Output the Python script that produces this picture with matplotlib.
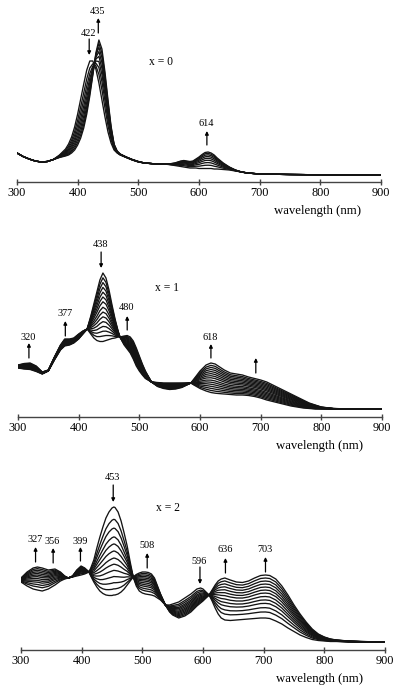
import numpy as np
import matplotlib
matplotlib.use("Agg")
import matplotlib.pyplot as plt

plt.rcParams['font.family'] = ['Liberation Serif', 'DejaVu Serif']

# ---------------- data (absorbance, arbitrary units) ----------------
# Panel x = 0
wl0 = [300, 310, 320, 330, 340, 350, 360, 370, 380, 385,
       390, 395, 400, 405, 410, 415, 420, 425, 430, 435,
       440, 445, 450, 455, 460, 465, 470, 480, 490, 500,
       510, 520, 530, 540, 550, 560, 565, 570, 575, 580,
       585, 590, 595, 600, 605, 610, 615, 620, 625, 630,
       640, 650, 660, 670, 680, 690, 700, 750, 800, 900]
x0_start = [0.29, 0.255, 0.23, 0.21, 0.20, 0.205, 0.225, 0.27, 0.33, 0.38,
            0.45, 0.55, 0.68, 0.83, 0.98, 1.12, 1.21, 1.21, 1.13, 0.99,
            0.82, 0.65, 0.50, 0.39, 0.32, 0.29, 0.27, 0.245, 0.22, 0.20,
            0.19, 0.185, 0.18, 0.18, 0.175, 0.165, 0.16, 0.155, 0.15, 0.145,
            0.14, 0.14, 0.14, 0.135, 0.135, 0.135, 0.135, 0.135, 0.13, 0.13,
            0.125, 0.12, 0.11, 0.10, 0.09, 0.085, 0.08, 0.075, 0.072, 0.07]
x0_end = [0.29, 0.255, 0.23, 0.21, 0.20, 0.205, 0.225, 0.245, 0.26, 0.27,
          0.29, 0.32, 0.37, 0.44, 0.54, 0.68, 0.86, 1.07, 1.29, 1.42,
          1.33, 1.10, 0.82, 0.56, 0.38, 0.31, 0.28, 0.25, 0.225, 0.205,
          0.19, 0.185, 0.18, 0.18, 0.18, 0.19, 0.20, 0.21, 0.215, 0.21,
          0.205, 0.21, 0.23, 0.25, 0.275, 0.295, 0.30, 0.29, 0.27, 0.24,
          0.19, 0.15, 0.12, 0.10, 0.09, 0.085, 0.08, 0.075, 0.072, 0.07]
x0_steps = [0, 0.2, 0.36, 0.5, 0.62, 0.73, 0.83, 0.92, 1.0]

# Panel x = 1
wl1 = [300, 310, 320, 330, 340, 350, 360, 370, 377, 385,
       392, 400, 407, 414, 420, 425, 430, 435, 440, 445,
       450, 455, 460, 465, 468, 475, 480, 485, 490, 495,
       500, 505, 510, 520, 530, 540, 550, 560, 570, 580,
       585, 590, 600, 610, 618, 625, 630, 640, 650, 660,
       670, 680, 690, 700, 710, 720, 730, 740, 750, 760,
       770, 780, 790, 800, 820, 850, 900]
x1_start = [0.49, 0.48, 0.475, 0.455, 0.43, 0.46, 0.57, 0.67, 0.71, 0.72,
            0.74, 0.78, 0.83, 0.88, 1.01, 1.13, 1.25, 1.37, 1.44, 1.39,
            1.27, 1.12, 0.98, 0.86, 0.80, 0.72, 0.68, 0.64, 0.58, 0.51,
            0.46, 0.42, 0.385, 0.35, 0.345, 0.34, 0.34, 0.34, 0.34, 0.34,
            0.34, 0.32, 0.285, 0.26, 0.245, 0.238, 0.235, 0.23, 0.225, 0.22,
            0.22, 0.215, 0.205, 0.19, 0.17, 0.155, 0.14, 0.125, 0.11, 0.10,
            0.09, 0.085, 0.08, 0.08, 0.08, 0.08, 0.08]
x1_end = [0.52, 0.535, 0.54, 0.51, 0.45, 0.47, 0.60, 0.72, 0.78, 0.78,
          0.79, 0.83, 0.86, 0.88, 0.83, 0.79, 0.765, 0.755, 0.755, 0.765,
          0.775, 0.785, 0.79, 0.80, 0.80, 0.81, 0.815, 0.80, 0.76, 0.69,
          0.61, 0.53, 0.46, 0.35, 0.305, 0.285, 0.275, 0.28, 0.295, 0.325,
          0.34, 0.38, 0.46, 0.52, 0.54, 0.53, 0.51, 0.47, 0.44, 0.43,
          0.42, 0.40, 0.385, 0.37, 0.35, 0.32, 0.29, 0.26, 0.23, 0.20,
          0.17, 0.14, 0.12, 0.10, 0.085, 0.08, 0.08]
x1_steps = [0, 0.07, 0.14, 0.21, 0.28, 0.35, 0.42, 0.5, 0.57, 0.64,
            0.71, 0.78, 0.85, 0.92, 1.0]

# Panel x = 2
wl2 = [300, 310, 320, 327, 335, 345, 356, 365, 372, 378,
       385, 392, 399, 405, 412, 415, 420, 425, 430, 435,
       440, 445, 450, 453, 455, 460, 465, 470, 475, 480,
       485, 490, 495, 500, 505, 510, 515, 520, 525, 530,
       538, 545, 550, 560, 570, 580, 590, 596, 600, 605,
       610, 615, 620, 625, 630, 636, 645, 655, 665, 675,
       685, 695, 703, 710, 720, 730, 740, 750, 760, 770,
       780, 790, 800, 810, 820, 840, 860, 900]
x2_start = [0.68, 0.64, 0.61, 0.60, 0.59, 0.61, 0.65, 0.69, 0.71, 0.72,
            0.73, 0.74, 0.75, 0.76, 0.78, 0.82, 0.90, 1.02, 1.13, 1.23,
            1.32, 1.38, 1.42, 1.43, 1.425, 1.38, 1.29, 1.17, 1.04, 0.88,
            0.73, 0.64, 0.59, 0.57, 0.56, 0.555, 0.55, 0.54, 0.52, 0.50,
            0.45, 0.45, 0.46, 0.48, 0.52, 0.56, 0.61, 0.62, 0.61, 0.58,
            0.55, 0.49, 0.42, 0.36, 0.32, 0.30, 0.295, 0.30, 0.305, 0.31,
            0.315, 0.32, 0.32, 0.315, 0.29, 0.26, 0.22, 0.185, 0.15, 0.125,
            0.105, 0.095, 0.09, 0.085, 0.085, 0.08, 0.08, 0.08]
x2_end = [0.72, 0.78, 0.82, 0.83, 0.82, 0.80, 0.81, 0.78, 0.74, 0.72,
          0.74, 0.80, 0.84, 0.82, 0.78, 0.74, 0.68, 0.63, 0.59, 0.565,
          0.55, 0.545, 0.545, 0.55, 0.55, 0.56, 0.58, 0.61, 0.65, 0.69,
          0.73, 0.755, 0.77, 0.78, 0.78, 0.775, 0.76, 0.72, 0.64, 0.56,
          0.45, 0.38, 0.35, 0.32, 0.34, 0.38, 0.44, 0.47, 0.49, 0.52,
          0.55, 0.60, 0.65, 0.69, 0.71, 0.72, 0.70, 0.68, 0.675, 0.69,
          0.72, 0.745, 0.75, 0.745, 0.71, 0.64, 0.55, 0.45, 0.36, 0.28,
          0.21, 0.16, 0.13, 0.11, 0.10, 0.09, 0.085, 0.08]
x2_steps = [0, 0.14, 0.24, 0.34, 0.42, 0.50, 0.58, 0.65, 0.72, 0.79,
            0.86, 0.93, 1.0]

xticks = [300, 400, 500, 600, 700, 800, 900]

# annotations: (label, wavelength, label_y, arrow_from_y, arrow_to_y)
ann0 = [("422", 419, 1.49, 1.43, 1.27),
        ("435", 434, 1.70, 1.49, 1.64),
        ("614", 613, 0.59, 0.37, 0.51)]
ann1 = [("438", 437, 1.72, 1.65, 1.49),
        ("320", 318, 0.80, 0.59, 0.74),
        ("377", 378, 1.04, 0.81, 0.96),
        ("480", 480, 1.09, 0.87, 1.01),
        ("618", 618, 0.80, 0.59, 0.73),
        ("", 692, None, 0.44, 0.59)]
ann2 = [("453", 452, 1.72, 1.65, 1.48),
        ("327", 324, 1.10, 0.88, 1.03),
        ("356", 353, 1.09, 0.87, 1.02),
        ("399", 398, 1.09, 0.89, 1.03),
        ("508", 508, 1.04, 0.82, 0.97),
        ("596", 595, 0.89, 0.83, 0.66),
        ("636", 637, 1.00, 0.77, 0.92),
        ("703", 703, 1.01, 0.78, 0.93)]

panels = [
    dict(wl=wl0, a=x0_start, b=x0_end, steps=x0_steps, ann=ann0,
         title="x = 0", tpos=(538, 1.20), left=17, axis_y=182, lab_x=318),
    dict(wl=wl1, a=x1_start, b=x1_end, steps=x1_steps, ann=ann1,
         title="x = 1", tpos=(545, 1.29), left=18, axis_y=417, lab_x=319),
    dict(wl=wl2, a=x2_start, b=x2_end, steps=x2_steps, ann=ann2,
         title="x = 2", tpos=(543, 1.42), left=21, axis_y=650, lab_x=319),
]

W, H = 400, 689
fig = plt.figure(figsize=(W / 100, H / 100), dpi=100)

for p in panels:
    axh = 177
    ax = fig.add_axes([p['left'] / W, (H - p['axis_y']) / H, 364 / W, axh / H])
    ax.set_xlim(300, 900)
    ax.set_ylim(0, axh / 100)
    wl = np.array(p['wl'], dtype=float)
    a = np.array(p['a'])
    b = np.array(p['b'])
    for f in p['steps']:
        ax.plot(wl, a + f * (b - a), color='#141414', lw=0.95)
    for side in ['left', 'right', 'top']:
        ax.spines[side].set_visible(False)
    ax.spines['bottom'].set_color('#444444')
    ax.spines['bottom'].set_linewidth(1.0)
    ax.set_yticks([])
    ax.set_xticks(xticks)
    ax.tick_params(axis='x', direction='inout', length=4, width=1,
                   color='#444444', pad=1.5, labelsize=8.8)
    ax.patch.set_alpha(0)
    for lab, x, ly, y0, y1 in p['ann']:
        ax.annotate("", xy=(x, y1), xytext=(x, y0),
                    arrowprops=dict(arrowstyle='-|>', color='black', lw=0.9,
                                    mutation_scale=5, shrinkA=0, shrinkB=0))
        if lab:
            ax.text(x - 1, ly, lab, ha='center', va='center', fontsize=7.4)
    ax.text(p['tpos'][0], p['tpos'][1], p['title'], ha='center', va='center',
            fontsize=8.4)
    frac = (p['lab_x'] - p['left']) / 364
    ax.annotate("wavelength (nm)", xy=(frac, 0), xycoords='axes fraction',
                xytext=(0, -29 * 0.72), textcoords='offset points',
                ha='center', va='center', fontsize=9.2)

fig.savefig("out.png", dpi=100)
